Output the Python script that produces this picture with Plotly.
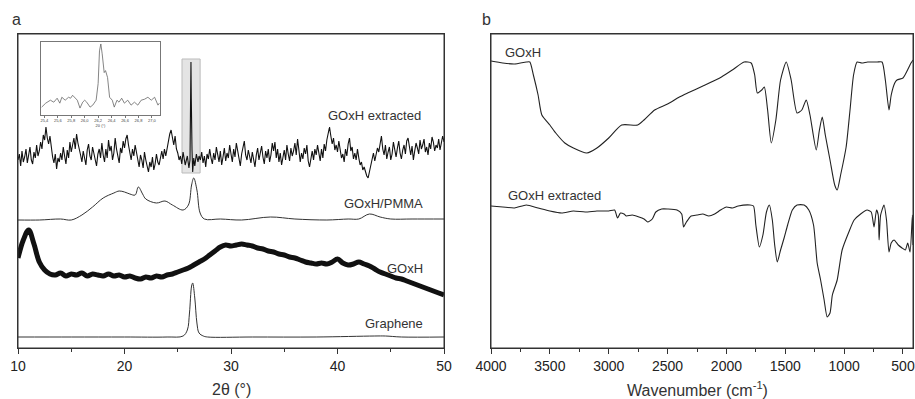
import plotly.graph_objects as go

# ---------------- Panel a : XRD (2theta, offset intensity a.u.) ----------------
step_a = 0.125
ext_seg1_start = 10.0
ext_seg1 = [188,194,182,197,186,191,199,185,193,201,188,184,196,190,203,192,
            197,206,199,213,208,221,210,204,212,198,191,185,194,179,190,186,
            195,188,201,192,184,198,190,206,196,203,210,199,214,205,200,193,
            186,197,190,183,198,204,192,188,201,195,187,182,194,199,190,205,
            193,186,199,190,208,197,202,188,195,210,199,192,185,200,195,207,
            200,209,213,203,196,188,199,192,203,195,187,181,193,188,180,196,
            188,180,176,186,181,191,178,184,194,186,183,190,197,189,199,192,
            201,208,214,218,209,203,212,199,195,188,192,184]
ext_spike_x = [25.5,25.7,25.9,26.05,26.15,26.2,26.24,26.27,26.3,26.34,26.4,26.5,26.6,26.75,26.9,27.0]
ext_spike_y = [196,183,192,180,188,230,286,250,205,198,176,190,182,194,186,192]
ext_seg3_start = 27.125
ext_seg3 = [188,196,185,192,181,194,189,
            199,190,184,195,188,201,193,186,197,183,191,200,187,195,190,203,
            194,186,199,191,205,196,189,182,194,200,207,193,188,198,191,185,
            196,189,181,193,200,188,195,202,191,184,197,190,199,186,193,205,
            197,206,190,199,186,195,183,191,198,188,203,194,187,200,192,197,
            205,193,209,198,186,195,189,200,194,203,187,181,192,197,188,199,
            193,203,195,187,199,190,204,197,208,215,221,212,204,210,198,203,
            196,207,199,190,194,186,199,192,204,210,197,201,189,195,188,199,
            190,183,186,178,181,175,172,170,177,183,190,195,187,193,200,196,
            205,212,199,193,203,189,196,201,188,194,206,198,191,200,207,195,
            189,198,203,194,207,210,199,193,202,188,197,205,200,194,208,199,
            203,209,196,201,193,205,199,211,206,197,203,200,209,198,205,212,
            206]

goxh_start = 10.0
goxh_step = 0.5
goxh_vals = [90,108,118,104,86,78,74,73,75,72,74,73,75,72,74,73,72,74,72,73,
             71,72,70,69,71,70,72,71,73,74,76,78,80,83,86,89,93,97,101,103,
             102,103,104,103,102,100,99,97,96,94,93,91,90,88,86,85,84,85,84,86,
             89,85,83,84,86,84,82,79,76,74,72,70,69,67,65,63,61,59,57,55,53]

pmma_x = [10,12,14,15,16,17,18,19,19.5,20,20.5,21,21.3,21.7,22,23,23.8,24.5,25.5,26,26.3,26.5,
          26.8,27.1,27.5,29,31,33.7,36,39,41,42,43,44,45,47,50]
pmma_y = [128,128,129,128,133,141,150,155,157,156,154,153,161,154,149,145,147,143,138,143,163,170,
          158,135,129,129,128,131,129,128,129,129,134,131,129,129,129]

gra_x = [10,15,20,24,25.5,25.9,26.1,26.3,26.4,26.6,26.8,27.0,27.4,27.8,32,38,43.5,44.5,46,50]
gra_y = [11,11,11,11,12,18,35,62,65,50,25,15,12,11,11,11,12,12,11,11]

inset_x = [25.36,25.42,25.49,25.54,25.59,25.63,25.66,25.71,25.76,25.79,25.82,25.86,25.89,25.93,25.97,
           26.0,26.03,26.08,26.12,26.17,26.2,26.22,26.24,26.26,26.29,26.31,26.34,26.37,26.41,26.44,
           26.48,26.51,26.55,26.59,26.64,26.69,26.74,26.79,26.84,26.89,26.94,26.99,27.04,27.09,27.11]
inset_y = [13,17,20,18,22,17,23,20,23,22,25,22,20,12,18,20,18,13,15,20,37,70,77,67,48,50,43,23,20,13,
           20,18,22,17,20,15,18,15,20,21,23,20,23,15,17]
inset_ticks = [25.4,25.6,25.8,26.0,26.2,26.4,26.6,26.8,27.0]
inset_ticktext = ["25,4","25,6","25,8","26,0","26,2","26,4","26,6","26,8","27,0"]
highlight_x = [25.4, 27.1]
highlight_y = [175, 289]

a_ticks = [10,20,30,40,50]
a_minor = [15,25,35,45]

# ---------------- Panel b : FTIR ----------------
ir_goxh_x = [4000,3900,3800,3700,3670,3640,3600,3568,3500,3450,3373,3300,3186,3100,3000,2890,2754,2700,
             2610,2500,2400,2330,2200,2042,1950,1850,1790,1760,1737,1700,1678,1650,1619,1580,1540,1492,
             1450,1400,1360,1322,1290,1237,1210,1186,1160,1120,1080,1059,1030,983,950,920,890,850,800,
             720,678,650,619,600,570,551,500,470,432,415]
ir_goxh_y = [287,285,284,286,286,273,253,233,223,215,205,200,195,200,210,223,223,228,
             238,244,251,255,262,271,278,286,285,273,255,258,261,238,205,228,268,286,
             268,235,238,248,233,198,218,231,213,188,163,158,173,201,238,273,286,285,286,
             286,286,268,238,253,265,268,270,276,285,288]

ir_ext_x = [4000,3900,3800,3700,3600,3500,3400,3300,3200,3100,3000,2950,2925,2900,2870,2850,2800,2700,
            2669,2630,2600,2550,2500,2420,2380,2364,2340,2300,2250,2200,2150,2100,2050,2000,1950,1900,
            1800,1770,1750,1720,1690,1660,1635,1610,1590,1568,1540,1510,1480,1440,1400,1340,1300,1260,
            1229,1200,1170,1144,1120,1100,1059,1017,960,915,860,805,770,746,725,710,703,690,661,640,619,
            600,576,540,508,480,460,440,420,415]
ir_ext_y = [142,141,140,143,140,137,135,137,136,137,137,138,130,135,134,132,133,129,
            126,129,136,139,139,138,134,121,126,132,133,134,132,134,138,141,140,142,
            143,142,123,101,113,136,143,128,103,86,98,110,123,138,143,143,138,123,
            85,68,48,31,35,53,68,98,116,128,134,138,136,121,138,133,108,133,143,128,96,
            105,108,103,100,98,105,96,133,103]
b_ticks = [4000,3500,3000,2500,2000,1500,1000,500]
b_minor = [3750,3250,2750,2250,1750,1250,750]

# ---------------- build ----------------
W, H = 915, 399
ML, MR = 8, 2
PW = W - ML - MR


def px_x(p):
    return (p - ML) / PW


def px_y(p):
    return 1 - p / H


ext_x = ([ext_seg1_start + step_a * i for i in range(len(ext_seg1))] + ext_spike_x +
         [ext_seg3_start + step_a * i for i in range(len(ext_seg3))])
ext_y = ext_seg1 + ext_spike_y + ext_seg3
goxh_x = [goxh_start + goxh_step * i for i in range(len(goxh_vals))]

FONT = "Liberation Sans, Arial, sans-serif"
fig = go.Figure()
fig.add_trace(go.Scatter(x=ext_x, y=ext_y, mode="lines", line=dict(color="#111", width=1.1),
                         xaxis="x", yaxis="y"))
fig.add_trace(go.Scatter(x=pmma_x, y=pmma_y, mode="lines", line=dict(color="#333", width=1, shape="spline"),
                         xaxis="x", yaxis="y"))
fig.add_trace(go.Scatter(x=goxh_x, y=goxh_vals, mode="lines", line=dict(color="#111", width=5, shape="spline"),
                         xaxis="x", yaxis="y"))
fig.add_trace(go.Scatter(x=gra_x, y=gra_y, mode="lines", line=dict(color="#333", width=1, shape="spline"),
                         xaxis="x", yaxis="y"))
fig.add_trace(go.Scatter(x=inset_x, y=inset_y, mode="lines", line=dict(color="#666", width=0.8),
                         xaxis="x3", yaxis="y3"))
fig.add_trace(go.Scatter(x=ir_goxh_x, y=ir_goxh_y, mode="lines",
                         line=dict(color="#222", width=1.1, shape="spline", smoothing=0.6),
                         xaxis="x2", yaxis="y2"))
fig.add_trace(go.Scatter(x=ir_ext_x, y=ir_ext_y, mode="lines",
                         line=dict(color="#222", width=1.1, shape="spline", smoothing=0.6),
                         xaxis="x2", yaxis="y2"))

axcol = "#333"
common_x = dict(showline=True, linecolor=axcol, linewidth=1, mirror=True, showgrid=False, zeroline=False,
                ticks="outside", ticklen=5, tickcolor=axcol, automargin=False,
                tickfont=dict(size=14, color="#222", family=FONT))
common_y = dict(showline=True, linecolor=axcol, linewidth=1, mirror=True, showgrid=False, zeroline=False,
                showticklabels=False, ticks="", automargin=False)

frames = [dict(type="rect", xref=xr + " domain", yref=yr + " domain", x0=0, x1=1, y0=0, y1=1,
               line=dict(color=axcol, width=1), fillcolor="rgba(0,0,0,0)", layer="above")
          for xr, yr in (("x", "y"), ("x2", "y2"))]

fig.update_layout(
    width=W, height=H, margin=dict(l=ML, r=MR, t=0, b=0, autoexpand=False),
    paper_bgcolor="white", plot_bgcolor="white", showlegend=False,
    font=dict(family=FONT, color="#222"),
    xaxis=dict(domain=[px_x(18), px_x(444)], range=[10, 50], tickmode="array", tickvals=a_ticks,
               anchor="y",
               minor=dict(tickmode="array", tickvals=a_minor, ticks="outside", ticklen=3, tickcolor=axcol),
               **common_x),
    yaxis=dict(domain=[px_y(348), px_y(34)], range=[0, 314], anchor="x", **common_y),
    xaxis2=dict(domain=[px_x(491), min(1.0, px_x(913))], range=[4000, 415], tickmode="array", tickvals=b_ticks,
                anchor="y2",
                minor=dict(tickmode="array", tickvals=b_minor, ticks="outside", ticklen=3, tickcolor=axcol),
                **common_x),
    yaxis2=dict(domain=[px_y(348), px_y(34)], range=[0, 314], anchor="x2", **common_y),
    xaxis3=dict(domain=[px_x(41), px_x(160)], range=[25.35, 27.12], anchor="y3", tickmode="array",
                tickvals=inset_ticks, ticktext=inset_ticktext, showline=True, mirror=True,
                linecolor="#777", linewidth=1, ticks="outside", ticklen=1.5, tickcolor="#777",
                showgrid=False, zeroline=False, automargin=False, tickfont=dict(size=4, color="#444"),
                title=dict(text="2θ (°)", font=dict(size=4, color="#444"), standoff=1)),
    yaxis3=dict(domain=[px_y(115), px_y(42)], range=[5, 79], anchor="x3", showline=True, mirror=True,
                linecolor="#777", linewidth=1, showticklabels=False, ticks="", showgrid=False,
                zeroline=False, automargin=False),
    shapes=[dict(type="rect", xref="x", yref="y", x0=highlight_x[0], x1=highlight_x[1],
                 y0=highlight_y[0], y1=highlight_y[1], fillcolor="#e4e4e4",
                 line=dict(color="#bbb", width=1), layer="below")] + frames,
)

ann = []


def label(text, x, y, xanchor="left", size=13):
    ann.append(dict(text=text, x=px_x(x), y=px_y(y), xref="paper", yref="paper",
                    xanchor=xanchor, yanchor="middle", showarrow=False,
                    font=dict(size=size, color="#333", family=FONT)))


label("a", 10, 19, size=16)
label("b", 480, 19, size=16)
label("GOxH extracted", 423, 115, "right")
label("GOxH/PMMA", 425, 203, "right")
label("GOxH", 425, 268, "right")
label("Graphene", 425, 323, "right")
label("GOxH", 503, 52)
label("GOxH extracted", 506, 195)
label("2θ (°)", 231, 389, "center", size=16)
label("Wavenumber (cm<sup>-1</sup>)", 697, 389, "center", size=16)
fig.update_layout(annotations=ann)

fig.write_html("out.html", config={"responsive": False, "displayModeBar": False},
               post_script="document.body.style.margin='0';document.body.style.padding='0';"
                           "document.body.style.overflow='hidden';")
